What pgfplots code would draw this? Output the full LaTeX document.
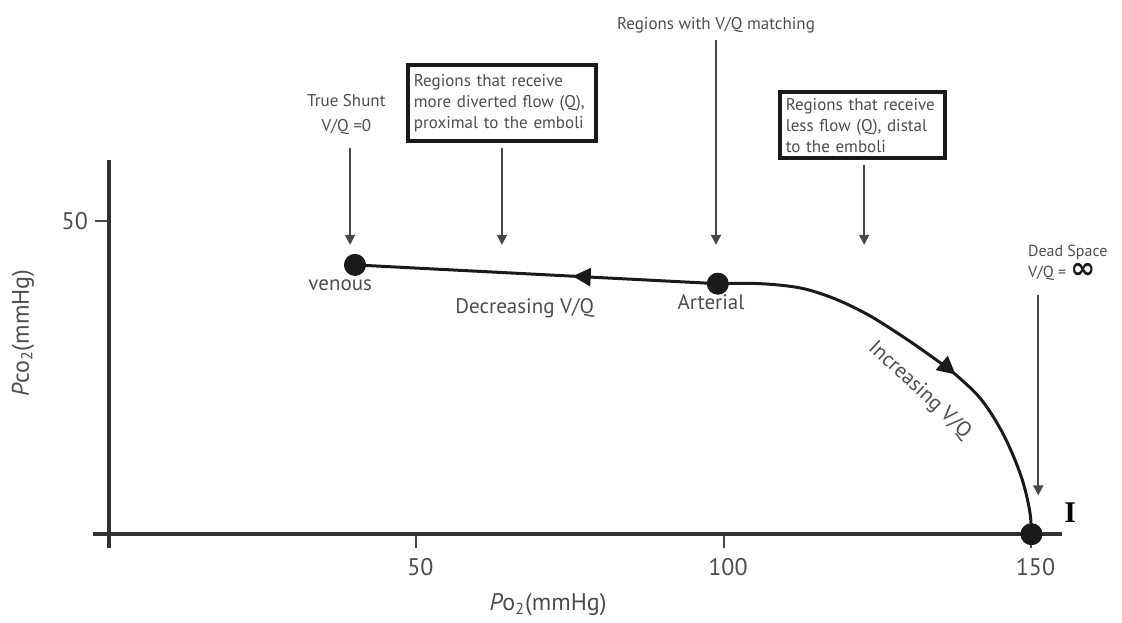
\documentclass[border=0pt]{standalone}
\usepackage{fontspec}
\setmainfont{PT Sans}
\newfontfamily\serifI{Liberation Serif}
\newfontfamily\dejavu{DejaVu Sans}
\usepackage{pgfplots}
\pgfplotsset{compat=1.18}
\usetikzlibrary{arrows.meta,decorations.markings}
\definecolor{txt}{HTML}{4D4D4D}
\definecolor{ln}{HTML}{1A1A1A}
\begin{document}
\begin{tikzpicture}
\begin{axis}[
  scale only axis, width=484.5pt, height=193.9pt,
  xmin=-2.6, xmax=155, ymin=-2.24, ymax=59.7,
  axis lines=middle,
  axis line style={-, line width=1.7pt, color=ln!90},
  every inner x axis line/.append style={-},
  every inner y axis line/.append style={-},
  xtick={50,100,150}, ytick={50},
  tick align=outside, major tick length=7pt,
  tick style={line width=1pt, color=ln!80},
  /pgf/number format/assume math mode=true,
  xticklabel style={font=\fontsize{12}{14}\selectfont, text=txt, yshift=-1.5pt, xshift=2pt},
  yticklabel style={font=\fontsize{12}{14}\selectfont, text=txt},
  clip=false,
]
% straight segment arterial -> venous
\addplot[ln, line width=1.5pt, postaction={decorate},
  decoration={markings, mark=at position 0.4 with {\arrow{Triangle[length=9pt,width=9pt]}}}]
  coordinates {(99,40) (40,43)};
% curve arterial -> dead space
\addplot[ln, line width=1.5pt, smooth, tension=0.55, postaction={decorate},
  decoration={markings, mark=at position 0.59 with {\arrow{Triangle[length=9pt,width=9pt]}}}]
  coordinates {(99,40) (106,40) (112.5,39.3) (118,37.6) (123.5,35.0) (129,31.6) (134,28.2) (138,25.2) (142,21.3) (145.5,15.8) (148.3,9.3) (149.7,3.8) (150,0)};
% points
\addplot[only marks, mark=*, mark size=5.3pt, ln] coordinates {(40,43) (99,40) (150,0)};

% curve labels
\node[font=\fontsize{10.5}{12}\selectfont, text=txt] at (axis cs:37.6,39.8) {venous};
\node[font=\fontsize{10.5}{12}\selectfont, text=txt] at (axis cs:67.6,36.1) {Decreasing V/Q};
\node[font=\fontsize{10.5}{12}\selectfont, text=txt] at (axis cs:97.9,37.1) {Arterial};
\node[font=\fontsize{10.5}{12}\selectfont, text=txt, rotate=-43] at (axis cs:131.8,23.0) {Increasing V/Q};

% annotations
\node[font=\fontsize{8.5}{12.5}\selectfont, text=txt, align=center] at (axis cs:38.6,67.0) {True Shunt\\V/Q =0};
\draw[ln!80, line width=0.9pt, -{Triangle[length=5pt,width=5pt]}] (axis cs:39.2,61.7) -- (axis cs:39.2,46.2);

\node[draw=ln, line width=2pt, text=txt, font=\fontsize{8.5}{10.5}\selectfont, align=left, text width=88pt, inner sep=3pt, minimum height=38pt] at (axis cs:63.9,68.8) {Regions that receive\\more diverted flow (Q),\\proximal to the emboli};
\draw[ln!80, line width=0.9pt, -{Triangle[length=5pt,width=5pt]}] (axis cs:63.9,61.7) -- (axis cs:63.9,46.2);

\node[font=\fontsize{8.5}{10.5}\selectfont, text=txt] at (axis cs:98.7,81.3) {Regions with V/Q matching};
\draw[ln!80, line width=0.9pt, -{Triangle[length=5pt,width=5pt]}] (axis cs:98.7,78.9) -- (axis cs:98.7,46.2);

\node[draw=ln, line width=2pt, text=txt, font=\fontsize{8.5}{10.5}\selectfont, align=left, text width=76.5pt, inner sep=3pt, minimum height=33pt] at (axis cs:122.5,65.3) {Regions that receive\\less flow (Q), distal\\to the emboli};
\draw[ln!80, line width=0.9pt, -{Triangle[length=5pt,width=5pt]}] (axis cs:122.8,58.9) -- (axis cs:122.8,46.2);

\node[anchor=west, align=left, font=\fontsize{8}{10.5}\selectfont, text=txt] at (axis cs:148.3,43.4) {Dead Space\\V/Q = {\color{ln}\dejavu\bfseries\fontsize{15}{10.5}\selectfont\raisebox{-0.6pt}{∞}}};
\draw[ln!80, line width=0.9pt, -{Triangle[length=5pt,width=5pt]}] (axis cs:151.1,38.2) -- (axis cs:151.1,6.2);

\node[font=\serifI\bfseries\fontsize{15}{15}\selectfont, text=black] at (axis cs:156.3,3.5) {I};

% axis labels
\node[font=\fontsize{12}{14}\selectfont, text=txt] at (axis cs:71.4,-11.3) {{\itshape P}o\textsubscript{2}(mmHg)};
\node[font=\fontsize{12}{14}\selectfont, text=txt, rotate=90] at (axis cs:-14.0,32.1) {{\itshape P}co\textsubscript{2}(mmHg)};

\coordinate (bl) at (axis cs:-17.72,-13.74);
\coordinate (tr) at (axis cs:164.72,85.3);
\end{axis}
\path (bl) rectangle (tr);
\end{tikzpicture}
\end{document}
